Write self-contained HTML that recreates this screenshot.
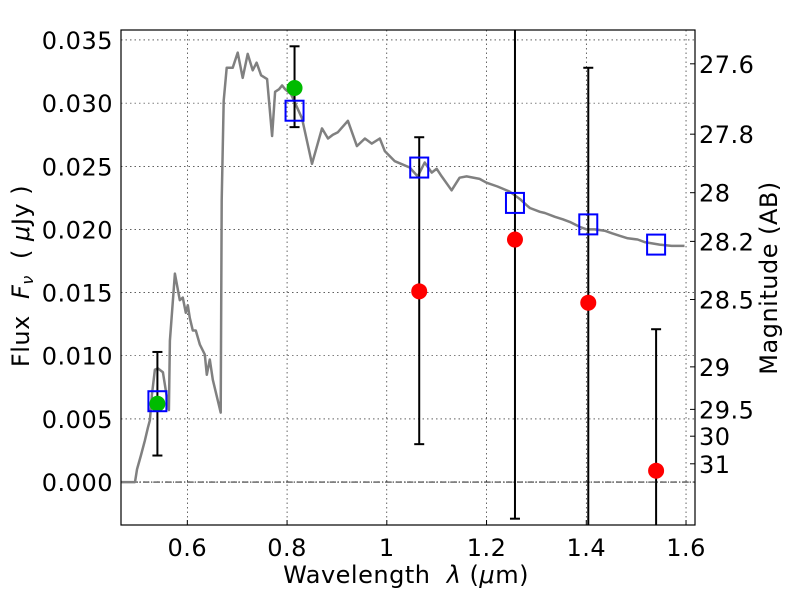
<!DOCTYPE html>
<html><head><meta charset="utf-8"><style>
html,body{margin:0;padding:0;background:#fff;}
svg text{font-family:"DejaVu Sans","Liberation Sans",sans-serif;font-size:24px;letter-spacing:0.5px;fill:#000;white-space:pre;}
</style></head><body>
<svg id="chart" width="800" height="600" viewBox="0 0 800 600" xmlns="http://www.w3.org/2000/svg"></svg>
<script>
// ---- data ----
const specLam = [0.467,0.495,0.499,0.507,0.515,0.521,0.525,0.529,0.535,0.541,0.551,0.563,0.565,0.575,0.585,0.591,0.597,0.601,0.605,0.611,0.617,0.625,0.635,0.639,0.645,0.651,0.667,0.669,0.673,0.679,0.691,0.701,0.711,0.721,0.731,0.739,0.748,0.760,0.770,0.776,0.784,0.790,0.796,0.808,0.830,0.850,0.870,0.882,0.892,0.902,0.922,0.940,0.956,0.970,0.986,0.996,1.016,1.046,1.062,1.076,1.090,1.100,1.110,1.130,1.146,1.160,1.186,1.200,1.222,1.246,1.267,1.281,1.287,1.307,1.317,1.337,1.353,1.367,1.377,1.387,1.401,1.417,1.437,1.451,1.467,1.483,1.503,1.517,1.547,1.571,1.597];
const specFlux = [0.0000,0.0000,0.0010,0.0021,0.0033,0.0043,0.0049,0.0069,0.0089,0.0090,0.0087,0.0057,0.0112,0.0165,0.0144,0.0146,0.0134,0.0140,0.0130,0.0120,0.0120,0.0109,0.0101,0.0085,0.0097,0.0081,0.0055,0.0223,0.0302,0.0328,0.0328,0.0340,0.0320,0.0339,0.0326,0.0332,0.0322,0.0319,0.0274,0.0309,0.0311,0.0314,0.0311,0.0307,0.0288,0.0252,0.0280,0.0272,0.0275,0.0277,0.0286,0.0266,0.0272,0.0268,0.0272,0.0262,0.0254,0.0249,0.0242,0.0253,0.0245,0.0248,0.0242,0.0231,0.0241,0.0242,0.0240,0.0237,0.0234,0.0230,0.0224,0.0219,0.0217,0.0214,0.0213,0.0210,0.0208,0.0206,0.0204,0.0202,0.0200,0.0200,0.0199,0.0197,0.0195,0.0193,0.0192,0.0190,0.0188,0.0187,0.0187];
const obsLam = [0.540,0.815,1.065,1.257,1.404,1.540];
const obsFlux = [0.0062,0.0312,0.0151,0.0192,0.0142,0.0009];
const obsLow = [0.0021,0.0281,0.0030,-0.0029,-0.0040,-0.0040];
const obsHigh = [0.0103,0.0345,0.0273,0.0400,0.0328,0.0121];
const obsColor = ["#00bb00","#00bb00","#ff0000","#ff0000","#ff0000","#ff0000"];
const modelFlux = [0.0064,0.0294,0.0249,0.0221,0.0204,0.0188];
const xTicks = [0.6,0.8,1.0,1.2,1.4,1.6];
const xTickLabels = ["0.6","0.8","1","1.2","1.4","1.6"];
const yTicks = [0,0.005,0.010,0.015,0.020,0.025,0.030,0.035];
const yTickLabels = ["0.000","0.005","0.010","0.015","0.020","0.025","0.030","0.035"];
const magTicks = [27.6,27.8,28,28.2,28.5,29,29.5,30,31];
const magTickLabels = ["27.6","27.8","28","28.2","28.5","29","29.5","30","31"];

const nSpec = Math.min(specLam.length, specFlux.length);

const L=121,R=695,T=30,B=525;
const xMin=0.467,xMax=1.618,yMin=-0.0034,yMax=0.03579;
const xS=v=>L+(v-xMin)/(xMax-xMin)*(R-L);
const yS=v=>B-(v-yMin)/(yMax-yMin)*(B-T);
const svg=document.getElementById('chart');
const NS="http://www.w3.org/2000/svg";
function mk(tag,attrs,parent){const e=document.createElementNS(NS,tag);for(const k in attrs)e.setAttribute(k,attrs[k]);(parent||svg).appendChild(e);return e;}

const defs=mk('defs',{});
const cp=mk('clipPath',{id:'plotclip'},defs);
mk('rect',{x:L,y:T,width:R-L,height:B-T},cp);

xTicks.forEach((t,i)=>{
  const g=mk('line',{x1:xS(t),x2:xS(t),y1:T,y2:B,stroke:'#000','stroke-width':0.6,'stroke-dasharray':'1.5,3'});
  
  
  const tk=mk('line',{x1:xS(t),x2:xS(t),y1:B,y2:B-5,stroke:'#000'});
  
  
  const lb=mk('text',{x:xS(t),y:B+31,'text-anchor':'middle'});
  lb.textContent=xTickLabels[i];
  
  
});
yTicks.forEach((t,i)=>{
  const g=mk('line',{x1:L,x2:R,y1:yS(t),y2:yS(t),stroke:'#000','stroke-width':0.6,'stroke-dasharray':'1.5,3'});
  
  
  const lb=mk('text',{x:L-8,y:yS(t)+9,'text-anchor':'end'});
  lb.textContent=yTickLabels[i];
  
  
});
const z=mk('line',{x1:L,x2:R,y1:yS(0),y2:yS(0),stroke:'#000','stroke-width':0.8,'stroke-dasharray':'6,2,1,2'});



magTicks.forEach((m,i)=>{
  const f=Math.pow(10,(23.9-m)/2.5);
  const y=yS(f);
  const tk=mk('line',{x1:R,x2:R-5,y1:y,y2:y,stroke:'#000'});
  
  
  const lb=mk('text',{x:R+4,y:y+9});
  lb.textContent=magTickLabels[i];
  
  
});

const pg=mk('g',{'clip-path':'url(#plotclip)'});


let d='';
for(let i=0;i<nSpec;i++) d+=(i?'L':'M')+xS(specLam[i]).toFixed(1)+','+yS(specFlux[i]).toFixed(1);
const sp=mk('path',{d:d,fill:'none',stroke:'#808080','stroke-width':2.5,'stroke-linejoin':'round'},pg);



obsLam.forEach((l,i)=>{
  const x=xS(l);
  const e=mk('line',{x1:x,x2:x,y1:yS(obsLow[i]),y2:yS(obsHigh[i]),stroke:'#000','stroke-width':2},pg);
  
  
  [obsLow[i],obsHigh[i]].forEach(v=>{
    const c=mk('line',{x1:x-5,x2:x+5,y1:yS(v),y2:yS(v),stroke:'#000','stroke-width':2},pg);
    
    
  });
});
obsLam.forEach((l,i)=>{
  const c=mk('circle',{cx:xS(l),cy:yS(obsFlux[i]),r:8,fill:obsColor[i]},pg);
  
  
});
obsLam.forEach((l,i)=>{
  const s=mk('rect',{x:xS(l)-9,y:yS(modelFlux[i])-10,width:18,height:20,fill:'none',stroke:'#0000ff','stroke-width':2},pg);
  
  
});

const fr=mk('rect',{x:L,y:T,width:R-L,height:B-T,fill:'none',stroke:'#000','stroke-width':1.2});



const xt=mk('text',{x:406,y:583,'text-anchor':'middle'});
xt.innerHTML='Wavelength  <tspan font-style="italic">λ</tspan> (<tspan font-style="italic">μ</tspan>m)';


const yt=mk('text',{x:0,y:0,'text-anchor':'middle',transform:'translate(29,276) rotate(-90)'});
yt.innerHTML='Flux  <tspan font-style="italic">F</tspan><tspan font-style="italic" font-size="16" dy="4">ν</tspan><tspan dy="-4">  ( </tspan><tspan font-style="italic">μ</tspan>Jy )';


const rt=mk('text',{x:0,y:0,'text-anchor':'middle',transform:'translate(777,278) rotate(-90)'});
rt.textContent='Magnitude (AB)';


</script>
</body></html>
